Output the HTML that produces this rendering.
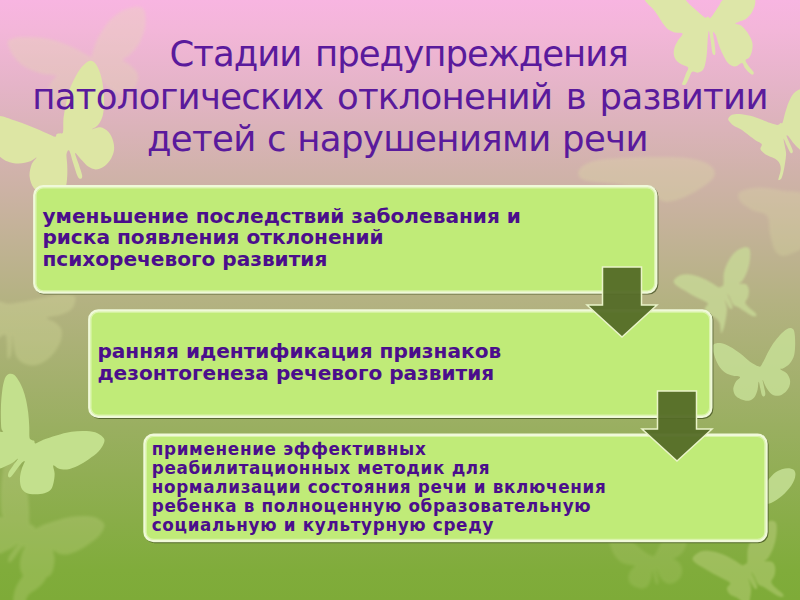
<!DOCTYPE html>
<html lang="ru">
<head>
<meta charset="utf-8">
<title>Стадии предупреждения</title>
<style>
html,body{margin:0;padding:0;}
body{width:800px;height:600px;overflow:hidden;position:relative;
  background:linear-gradient(to bottom,#f8b5e1 0%,#f3b6d9 5%,#e5b4c8 14.2%,#d0b2aa 28.7%,#b4b282 50%,#9aaf61 70.8%,#80ac3b 95%,#7eab38 100%);
  font-family:"DejaVu Sans","Liberation Sans",sans-serif;}
#bf{position:absolute;left:0;top:0;width:800px;height:600px;}
h1{position:absolute;left:0;top:33.1px;width:800px;margin:0;text-align:center;
  font-weight:normal;font-size:35.5px;line-height:42.5px;color:#5a1a9c;}
.box{position:absolute;width:624.4px;height:108.7px;}
#bx{position:absolute;left:0;top:0;width:800px;height:600px;}
.box p{position:absolute;left:9.3px;margin:0;font-weight:bold;color:#4b0e8c;white-space:nowrap;}
#b1{left:33.1px;top:185px;}
#b2{left:88.1px;top:309.3px;}
#b3{left:143.3px;top:433.6px;}
#b1 p,#b2 p{font-size:20.1px;line-height:21.5px;}
#b3 p{left:8.4px;font-size:16.8px;line-height:19.05px;letter-spacing:0.68px;}
.arr{position:absolute;width:74px;height:74px;}
</style>
</head>
<body>
<svg id="bf" viewBox="0 0 800 600"><defs><filter id="bl" x="-10%" y="-10%" width="120%" height="120%"><feGaussianBlur stdDeviation="1"/></filter><filter id="bl2" x="-10%" y="-10%" width="120%" height="120%"><feGaussianBlur stdDeviation="1.6"/></filter><clipPath id="c8"><rect x="760" y="460" width="40" height="46"/></clipPath></defs>
<path d="M90.5 56.7C89.4 56.5 89.3 56.0 85.5 54.0C81.7 52.1 74.3 47.6 67.5 45.0C60.8 42.4 52.5 39.6 45.0 38.3C37.5 36.9 27.8 37.1 22.5 37.1C17.3 37.1 15.9 37.5 13.5 38.3C11.1 39.0 8.6 40.1 7.9 41.6C7.1 43.1 8.1 44.8 9.0 47.3C9.9 49.7 11.3 53.3 13.5 56.3C15.8 59.3 19.1 62.8 22.5 65.3C25.9 67.7 30.0 69.4 33.8 70.9C37.5 72.4 41.3 73.4 45.0 74.3C48.8 75.1 55.1 74.7 56.3 75.8C57.4 77.0 53.1 78.6 51.8 81.0C50.4 83.4 48.4 87.0 48.4 90.0C48.4 93.0 49.7 96.8 51.8 99.0C53.8 101.3 57.4 103.1 60.8 103.5C64.1 103.9 68.6 103.1 72.0 101.3C75.4 99.4 78.4 96.0 81.0 92.3C83.6 88.5 86.2 82.1 87.8 78.8C89.3 75.4 89.6 73.9 90.5 72.0C91.3 70.1 91.7 67.1 92.7 67.5C93.8 67.9 94.6 71.3 96.8 74.3C98.9 77.3 102.4 82.5 105.8 85.5C109.1 88.5 113.3 91.1 117.0 92.3C120.8 93.4 125.1 93.4 128.3 92.3C131.5 91.1 134.6 88.5 136.1 85.5C137.7 82.5 138.7 77.6 137.7 74.3C136.8 70.9 133.0 67.7 130.5 65.3C128.1 62.9 123.1 61.7 123.1 59.9C123.1 58.0 127.8 56.9 130.5 54.0C133.3 51.2 137.1 47.3 139.5 42.8C142.0 38.3 144.3 32.3 145.1 27.0C146.0 21.8 145.8 14.6 144.5 11.3C143.2 7.9 141.1 6.8 137.3 6.8C133.4 6.8 126.4 8.6 121.5 11.3C116.6 13.9 112.1 17.6 108.0 22.5C103.9 27.4 99.5 35.0 96.8 40.5C94.1 46.0 92.9 52.7 91.8 55.4C90.8 58.1 91.5 56.9 90.5 56.7Z" fill="#e2e8a6" opacity="0.24" filter="url(#bl2)"/>
<path d="M579.5 169.5C581.5 166.3 586.8 162.5 596.0 160.5C605.3 158.5 621.0 158.0 635.0 157.5C649.0 157.0 668.5 156.8 680.0 157.5C691.5 158.3 698.3 159.8 704.0 162.0C709.8 164.3 713.5 167.8 714.5 171.0C715.5 174.3 714.8 177.3 710.0 181.5C705.3 185.8 693.5 193.2 686.0 196.5C678.5 199.9 671.0 202.1 665.0 201.6C659.0 201.1 657.5 196.4 650.0 193.5C642.5 190.7 631.0 186.8 620.0 184.5C609.0 182.3 590.8 182.5 584.0 180.0C577.3 177.5 577.5 172.8 579.5 169.5Z" fill="#e2e8a6" opacity="0.26" filter="url(#bl2)"/>
<path d="M740.0 192.0C743.0 189.8 751.0 187.8 758.0 187.5C765.0 187.3 773.5 188.8 782.0 190.5C790.5 192.3 804.5 189.8 809.0 198.0C813.5 206.3 812.5 230.5 809.0 240.0C805.5 249.5 793.5 253.0 788.0 255.0C782.5 257.0 779.0 255.5 776.0 252.0C773.0 248.5 771.5 240.0 770.0 234.0C768.5 228.0 770.0 220.0 767.0 216.0C764.0 212.0 756.5 212.5 752.0 210.0C747.5 207.5 742.0 204.0 740.0 201.0C738.0 198.0 737.0 194.3 740.0 192.0Z" fill="#e2e8a6" opacity="0.22" filter="url(#bl2)"/>
<path d="M9.2 303.8C13.8 303.5 16.8 302.9 22.0 302.0C27.2 301.1 34.2 299.6 40.3 298.3C46.4 297.1 53.2 295.1 58.7 294.7C64.2 294.2 70.5 294.7 73.3 295.6C76.1 296.5 75.8 297.9 75.5 300.2C75.2 302.5 74.0 306.9 71.5 309.3C69.0 311.8 64.6 313.4 60.5 314.8C56.4 316.3 47.7 316.7 46.8 318.0C45.8 319.2 52.6 320.2 55.0 322.2C57.4 324.1 60.4 326.4 61.4 329.5C62.4 332.6 61.9 336.8 60.9 340.5C59.8 344.2 57.5 348.1 55.0 351.5C52.5 354.9 49.2 358.4 45.8 360.7C42.5 363.0 38.5 364.8 34.8 365.3C31.2 365.7 26.9 364.8 23.8 363.4C20.8 362.0 18.2 359.9 16.5 357.0C14.8 354.1 14.4 349.7 13.8 346.0C13.1 342.3 12.9 333.8 12.5 335.0C12.1 336.2 12.2 349.5 11.4 353.3C10.6 357.2 8.7 361.0 7.7 357.9C6.7 354.9 7.7 338.2 5.5 335.0C3.3 331.8 -3.7 343.9 -5.5 338.7C-7.3 333.5 -7.9 309.6 -5.5 303.8C-3.1 298.0 4.6 304.1 9.2 303.8Z" fill="#e2e8a6" opacity="0.26" filter="url(#bl2)"/>
<g opacity="0.2" filter="url(#bl2)"><path d="M6.5 375.8C7.4 374.7 8.5 373.8 9.7 373.7C11.0 373.5 12.6 373.7 14.1 374.7C15.5 375.8 17.0 377.8 18.4 380.2C19.9 382.5 21.5 385.6 22.7 388.8C24.0 392.1 25.1 395.7 26.0 399.7C26.9 403.6 27.6 408.3 28.2 412.6C28.7 417.0 29.0 421.5 29.2 425.6C29.5 429.8 29.1 435.2 29.5 437.6C29.9 439.9 30.8 439.4 31.6 439.9C32.4 440.5 33.6 440.2 34.2 440.8C34.9 441.4 34.0 443.6 35.5 443.4C37.0 443.2 39.9 441.1 43.3 439.7C46.8 438.4 51.6 436.7 56.3 435.4C61.0 434.1 66.4 432.4 71.5 431.7C76.5 431.0 82.3 430.8 86.6 431.1C91.0 431.3 94.6 432.0 97.5 433.2C100.4 434.5 103.0 436.8 104.0 438.6C105.0 440.4 104.4 441.9 103.5 444.1C102.6 446.2 101.0 449.1 98.5 451.6C96.1 454.2 92.2 456.9 88.8 459.2C85.4 461.6 81.6 464.0 78.0 465.7C74.4 467.4 70.4 468.9 67.1 469.4C63.9 469.9 60.8 469.2 58.5 468.5C56.2 467.9 53.9 464.7 53.3 465.5C52.6 466.3 54.5 470.6 54.6 473.3C54.7 476.0 54.3 479.3 53.7 482.0C53.1 484.7 52.5 487.7 50.9 489.5C49.3 491.4 47.1 492.4 44.4 493.2C41.7 494.0 37.7 494.4 34.7 494.3C31.6 494.2 28.2 493.9 26.0 492.8C23.8 491.6 22.2 489.7 21.2 487.4C20.2 485.0 19.9 481.8 19.9 478.7C20.0 475.6 20.9 471.9 21.7 469.0C22.5 466.1 24.8 462.3 24.7 461.4C24.6 460.5 22.8 461.9 21.2 463.5C19.6 465.2 16.9 469.3 15.2 471.6C13.4 473.8 12.0 476.1 10.8 477.0C9.7 477.8 8.6 477.3 8.2 476.5C7.9 475.8 7.9 474.0 8.7 472.2C9.5 470.4 11.4 468.0 13.0 465.7C14.6 463.4 18.2 459.1 18.2 458.6C18.2 458.0 14.9 461.3 13.0 462.5C11.0 463.7 9.0 464.7 6.5 465.7C4.0 466.7 0.4 469.4 -2.2 468.5C-4.7 467.6 -7.6 466.0 -8.7 460.3C-9.7 454.6 -10.5 439.1 -8.7 434.3C-6.8 429.5 0.9 432.8 2.6 431.7C4.3 430.6 1.6 431.7 1.3 427.8C1.0 423.9 0.7 414.5 0.9 408.3C1.0 402.2 1.6 395.7 2.2 391.0C2.7 386.3 3.6 382.7 4.3 380.2C5.1 377.6 5.6 376.9 6.5 375.8Z" fill="#e2e8a6" transform="translate(0 85)"/><path d="M44 560C52 572 46 584 32 592C24 597 25 606 27 614L14 614C12 600 13 590 20 580C26 572 28 566 28 560Z" fill="#e2e8a6"/></g>
<path d="M758.3 366.3C756.5 365.7 753.1 363.8 750.0 361.7C746.9 359.5 743.3 355.8 740.0 353.3C736.7 350.8 733.1 348.3 730.0 346.7C726.9 345.0 724.2 343.8 721.7 343.3C719.1 342.8 716.2 343.0 714.7 343.7C713.1 344.4 712.6 345.6 712.5 347.5C712.4 349.4 713.2 352.1 714.2 355.0C715.1 357.9 716.5 362.1 718.3 365.0C720.1 367.9 722.5 370.7 725.0 372.5C727.5 374.3 730.8 375.1 733.3 375.8C735.8 376.6 739.6 376.0 740.0 377.0C740.4 378.0 736.9 379.8 735.8 381.7C734.7 383.6 733.5 386.1 733.3 388.3C733.2 390.6 733.8 393.2 735.0 395.0C736.2 396.8 738.6 398.2 740.8 399.2C743.1 400.1 746.1 401.1 748.3 400.8C750.6 400.6 752.6 399.3 754.2 397.5C755.7 395.7 756.8 392.6 757.5 390.0C758.2 387.4 758.2 381.9 758.7 381.7C759.1 381.4 759.8 386.1 760.3 388.3C760.9 390.6 761.3 394.0 762.0 395.3C762.7 396.7 763.8 396.7 764.3 396.3C764.9 396.0 765.4 394.9 765.3 393.3C765.3 391.7 764.4 388.9 764.0 386.7C763.6 384.4 762.2 379.7 762.7 380.0C763.1 380.3 765.2 386.0 766.7 388.3C768.2 390.7 769.7 392.9 771.7 394.2C773.6 395.4 776.1 396.1 778.3 395.8C780.6 395.6 783.2 394.0 785.0 392.5C786.8 391.0 788.3 388.8 789.2 386.7C790.0 384.6 790.4 382.2 790.0 380.0C789.6 377.8 788.3 375.1 786.7 373.3C785.1 371.5 780.9 370.0 780.3 369.2C779.8 368.3 781.7 369.3 783.3 368.3C784.9 367.4 788.2 365.6 790.0 363.3C791.8 361.1 793.3 358.3 794.2 355.0C795.0 351.7 795.1 347.2 795.2 343.3C795.2 339.4 794.9 334.2 794.3 331.7C793.8 329.2 792.9 328.8 791.7 328.3C790.4 327.9 788.6 328.1 786.7 329.2C784.7 330.3 782.2 332.6 780.0 335.0C777.8 337.4 775.3 340.6 773.3 343.3C771.4 346.1 769.9 348.9 768.3 351.7C766.8 354.4 765.4 357.7 764.2 360.0C762.9 362.3 762.0 364.6 761.0 365.7C760.0 366.7 760.2 367.0 758.3 366.3Z" fill="#e2e8a6" opacity="0.14" transform="translate(652.0 556.0) rotate(0.0) scale(0.950) translate(-758.3 -366.5)" filter="url(#bl2)"/>
<path d="M721.4 286.3C720.6 286.8 720.3 287.9 718.7 287.3C717.0 286.6 714.4 284.3 711.3 282.7C708.3 281.0 704.0 278.5 700.3 277.2C696.7 275.8 692.7 274.7 689.3 274.4C686.0 274.1 682.8 274.3 680.2 275.3C677.6 276.4 674.4 279.2 673.8 280.8C673.1 282.5 674.8 283.9 676.5 285.4C678.2 286.9 681.1 288.3 683.8 290.0C686.6 291.7 689.9 293.8 693.0 295.5C696.1 297.2 699.7 298.7 702.2 300.1C704.7 301.5 707.6 302.4 708.0 303.8C708.5 305.1 705.0 306.7 704.9 308.3C704.9 310.0 706.0 312.3 707.7 313.8C709.3 315.4 713.0 316.0 715.0 317.5C717.0 319.0 718.6 320.9 719.6 323.0C720.5 325.1 720.4 328.6 720.7 330.3C721.0 332.0 720.8 333.9 721.4 333.3C722.0 332.7 723.4 329.3 724.2 326.7C724.9 324.0 725.5 320.6 726.0 317.5C726.5 314.4 727.2 311.3 726.9 308.3C726.7 305.3 724.4 300.1 724.5 299.5C724.6 298.9 726.5 303.1 727.5 304.7C728.4 306.2 729.5 308.2 730.4 308.7C731.3 309.2 732.6 308.9 732.6 307.6C732.6 306.3 731.3 303.3 730.4 301.0C729.5 298.7 727.2 294.3 727.1 293.7C727.0 293.1 728.6 295.5 729.7 297.3C730.7 299.2 731.8 303.0 733.3 304.7C734.9 306.3 737.0 306.3 738.8 307.4C740.7 308.5 742.2 309.7 744.3 311.1C746.5 312.5 749.7 314.9 751.7 315.7C753.7 316.5 755.6 316.3 756.3 315.9C756.9 315.4 756.4 314.2 755.3 312.9C754.3 311.7 751.5 310.0 749.8 308.3C748.2 306.7 745.6 304.7 745.3 302.8C744.9 301.0 747.4 299.5 748.0 297.3C748.6 295.2 749.2 292.1 748.9 290.0C748.6 287.9 747.8 285.6 746.2 284.5C744.5 283.4 739.8 284.2 739.2 283.6C738.6 283.0 741.2 282.8 742.5 280.8C743.8 278.8 745.9 275.0 747.1 271.7C748.3 268.3 749.4 264.3 749.8 260.7C750.3 257.0 750.6 252.0 749.8 249.7C749.1 247.4 747.4 246.8 745.3 246.9C743.1 247.1 739.6 248.6 737.0 250.6C734.4 252.6 731.8 255.3 729.7 258.8C727.5 262.3 725.2 267.4 724.2 271.7C723.1 275.9 723.9 282.1 723.4 284.5C723.0 286.9 722.2 285.9 721.4 286.3Z" fill="#e2e8a6" opacity="0.3" transform="translate(745.0 564.0) rotate(0.0) scale(1.100) translate(-721.4 -286.3)" filter="url(#bl)"/>
<path d="M760 500C762 488 768 478 776 472C782 468 790 467 794 470C797 474 795 480 791 486C786 493 779 499 771 503C766 505 762 504 760 500Z" fill="#c9e39a" opacity="0.8"/>
<path d="M721.4 286.3C720.6 286.8 720.3 287.9 718.7 287.3C717.0 286.6 714.4 284.3 711.3 282.7C708.3 281.0 704.0 278.5 700.3 277.2C696.7 275.8 692.7 274.7 689.3 274.4C686.0 274.1 682.8 274.3 680.2 275.3C677.6 276.4 674.4 279.2 673.8 280.8C673.1 282.5 674.8 283.9 676.5 285.4C678.2 286.9 681.1 288.3 683.8 290.0C686.6 291.7 689.9 293.8 693.0 295.5C696.1 297.2 699.7 298.7 702.2 300.1C704.7 301.5 707.6 302.4 708.0 303.8C708.5 305.1 705.0 306.7 704.9 308.3C704.9 310.0 706.0 312.3 707.7 313.8C709.3 315.4 713.0 316.0 715.0 317.5C717.0 319.0 718.6 320.9 719.6 323.0C720.5 325.1 720.4 328.6 720.7 330.3C721.0 332.0 720.8 333.9 721.4 333.3C722.0 332.7 723.4 329.3 724.2 326.7C724.9 324.0 725.5 320.6 726.0 317.5C726.5 314.4 727.2 311.3 726.9 308.3C726.7 305.3 724.4 300.1 724.5 299.5C724.6 298.9 726.5 303.1 727.5 304.7C728.4 306.2 729.5 308.2 730.4 308.7C731.3 309.2 732.6 308.9 732.6 307.6C732.6 306.3 731.3 303.3 730.4 301.0C729.5 298.7 727.2 294.3 727.1 293.7C727.0 293.1 728.6 295.5 729.7 297.3C730.7 299.2 731.8 303.0 733.3 304.7C734.9 306.3 737.0 306.3 738.8 307.4C740.7 308.5 742.2 309.7 744.3 311.1C746.5 312.5 749.7 314.9 751.7 315.7C753.7 316.5 755.6 316.3 756.3 315.9C756.9 315.4 756.4 314.2 755.3 312.9C754.3 311.7 751.5 310.0 749.8 308.3C748.2 306.7 745.6 304.7 745.3 302.8C744.9 301.0 747.4 299.5 748.0 297.3C748.6 295.2 749.2 292.1 748.9 290.0C748.6 287.9 747.8 285.6 746.2 284.5C744.5 283.4 739.8 284.2 739.2 283.6C738.6 283.0 741.2 282.8 742.5 280.8C743.8 278.8 745.9 275.0 747.1 271.7C748.3 268.3 749.4 264.3 749.8 260.7C750.3 257.0 750.6 252.0 749.8 249.7C749.1 247.4 747.4 246.8 745.3 246.9C743.1 247.1 739.6 248.6 737.0 250.6C734.4 252.6 731.8 255.3 729.7 258.8C727.5 262.3 725.2 267.4 724.2 271.7C723.1 275.9 723.9 282.1 723.4 284.5C723.0 286.9 722.2 285.9 721.4 286.3Z" fill="#c9dc98" opacity="0.75" filter="url(#bl)"/>
<path d="M758.3 366.3C756.5 365.7 753.1 363.8 750.0 361.7C746.9 359.5 743.3 355.8 740.0 353.3C736.7 350.8 733.1 348.3 730.0 346.7C726.9 345.0 724.2 343.8 721.7 343.3C719.1 342.8 716.2 343.0 714.7 343.7C713.1 344.4 712.6 345.6 712.5 347.5C712.4 349.4 713.2 352.1 714.2 355.0C715.1 357.9 716.5 362.1 718.3 365.0C720.1 367.9 722.5 370.7 725.0 372.5C727.5 374.3 730.8 375.1 733.3 375.8C735.8 376.6 739.6 376.0 740.0 377.0C740.4 378.0 736.9 379.8 735.8 381.7C734.7 383.6 733.5 386.1 733.3 388.3C733.2 390.6 733.8 393.2 735.0 395.0C736.2 396.8 738.6 398.2 740.8 399.2C743.1 400.1 746.1 401.1 748.3 400.8C750.6 400.6 752.6 399.3 754.2 397.5C755.7 395.7 756.8 392.6 757.5 390.0C758.2 387.4 758.2 381.9 758.7 381.7C759.1 381.4 759.8 386.1 760.3 388.3C760.9 390.6 761.3 394.0 762.0 395.3C762.7 396.7 763.8 396.7 764.3 396.3C764.9 396.0 765.4 394.9 765.3 393.3C765.3 391.7 764.4 388.9 764.0 386.7C763.6 384.4 762.2 379.7 762.7 380.0C763.1 380.3 765.2 386.0 766.7 388.3C768.2 390.7 769.7 392.9 771.7 394.2C773.6 395.4 776.1 396.1 778.3 395.8C780.6 395.6 783.2 394.0 785.0 392.5C786.8 391.0 788.3 388.8 789.2 386.7C790.0 384.6 790.4 382.2 790.0 380.0C789.6 377.8 788.3 375.1 786.7 373.3C785.1 371.5 780.9 370.0 780.3 369.2C779.8 368.3 781.7 369.3 783.3 368.3C784.9 367.4 788.2 365.6 790.0 363.3C791.8 361.1 793.3 358.3 794.2 355.0C795.0 351.7 795.1 347.2 795.2 343.3C795.2 339.4 794.9 334.2 794.3 331.7C793.8 329.2 792.9 328.8 791.7 328.3C790.4 327.9 788.6 328.1 786.7 329.2C784.7 330.3 782.2 332.6 780.0 335.0C777.8 337.4 775.3 340.6 773.3 343.3C771.4 346.1 769.9 348.9 768.3 351.7C766.8 354.4 765.4 357.7 764.2 360.0C762.9 362.3 762.0 364.6 761.0 365.7C760.0 366.7 760.2 367.0 758.3 366.3Z" fill="#c9e39a" opacity="0.78"/>
<path d="M63.0 132.0C63.6 129.5 63.0 122.7 63.5 118.0C64.0 113.3 65.0 108.7 66.0 104.0C67.1 99.3 68.1 94.3 69.5 90.0C71.0 85.7 72.7 82.1 74.7 78.3C76.7 74.5 79.2 70.1 81.7 67.1C84.2 64.2 87.6 61.5 89.8 60.8C92.1 60.2 93.5 61.2 95.2 63.2C96.9 65.1 98.6 68.8 99.9 72.5C101.2 76.2 102.2 80.5 102.9 85.3C103.6 90.2 104.1 96.6 104.1 101.7C104.0 106.7 103.7 111.8 102.7 115.7C101.7 119.6 99.8 122.8 98.0 125.0C96.3 127.3 91.8 128.8 92.2 129.2C92.6 129.6 97.6 126.9 100.4 127.3C103.1 127.8 106.4 129.7 108.5 132.0C110.7 134.3 112.3 138.2 113.2 141.3C114.1 144.5 114.4 147.6 113.9 150.7C113.4 153.8 111.9 157.3 110.2 160.0C108.4 162.7 105.6 165.5 103.2 167.0C100.7 168.6 98.2 169.4 95.7 169.4C93.2 169.3 90.5 168.1 88.2 166.6C85.9 165.0 83.9 162.3 81.7 160.0C79.5 157.8 75.6 152.2 75.1 153.0C74.7 153.8 77.7 161.0 78.9 164.7C80.0 168.4 81.8 172.9 82.1 175.2C82.5 177.5 81.7 178.5 81.0 178.7C80.2 178.9 79.0 178.9 77.7 176.4C76.4 173.8 74.7 167.8 73.3 163.5C71.9 159.2 70.4 152.2 69.3 150.7C68.2 149.1 66.9 151.8 66.5 154.2C66.2 156.5 67.1 161.0 67.2 164.7C67.3 168.4 67.5 172.5 67.2 176.4C66.9 180.2 66.8 184.9 65.3 188.0C63.9 191.1 61.8 193.9 58.3 195.0C54.8 196.2 48.4 196.2 44.3 195.0C40.3 193.9 36.3 191.1 33.8 188.0C31.4 184.9 30.0 180.2 29.6 176.4C29.2 172.5 30.4 167.8 31.5 164.7C32.6 161.6 36.6 158.3 36.4 157.7C36.2 157.1 33.3 160.2 30.3 161.2C27.4 162.2 22.6 163.5 18.7 163.5C14.8 163.5 10.5 162.7 7.0 161.2C3.5 159.6 0.0 157.1 -2.3 154.2C-4.7 151.3 -6.2 148.5 -7.0 143.7C-7.8 138.8 -8.0 129.6 -7.0 125.0C-6.0 120.4 -4.7 116.9 -1.2 116.1C2.3 115.4 8.8 118.7 14.0 120.3C19.3 122.0 24.9 124.0 30.3 126.2C35.8 128.3 42.6 131.4 46.7 133.2C50.8 134.9 53.4 136.6 55.1 136.7C56.7 136.8 55.9 134.5 56.7 133.9C57.6 133.3 59.2 133.5 60.2 133.2C61.3 132.9 62.5 134.5 63.0 132.0Z" fill="#dde6a4"/>
<path d="M6.5 375.8C7.4 374.7 8.5 373.8 9.7 373.7C11.0 373.5 12.6 373.7 14.1 374.7C15.5 375.8 17.0 377.8 18.4 380.2C19.9 382.5 21.5 385.6 22.7 388.8C24.0 392.1 25.1 395.7 26.0 399.7C26.9 403.6 27.6 408.3 28.2 412.6C28.7 417.0 29.0 421.5 29.2 425.6C29.5 429.8 29.1 435.2 29.5 437.6C29.9 439.9 30.8 439.4 31.6 439.9C32.4 440.5 33.6 440.2 34.2 440.8C34.9 441.4 34.0 443.6 35.5 443.4C37.0 443.2 39.9 441.1 43.3 439.7C46.8 438.4 51.6 436.7 56.3 435.4C61.0 434.1 66.4 432.4 71.5 431.7C76.5 431.0 82.3 430.8 86.6 431.1C91.0 431.3 94.6 432.0 97.5 433.2C100.4 434.5 103.0 436.8 104.0 438.6C105.0 440.4 104.4 441.9 103.5 444.1C102.6 446.2 101.0 449.1 98.5 451.6C96.1 454.2 92.2 456.9 88.8 459.2C85.4 461.6 81.6 464.0 78.0 465.7C74.4 467.4 70.4 468.9 67.1 469.4C63.9 469.9 60.8 469.2 58.5 468.5C56.2 467.9 53.9 464.7 53.3 465.5C52.6 466.3 54.5 470.6 54.6 473.3C54.7 476.0 54.3 479.3 53.7 482.0C53.1 484.7 52.5 487.7 50.9 489.5C49.3 491.4 47.1 492.4 44.4 493.2C41.7 494.0 37.7 494.4 34.7 494.3C31.6 494.2 28.2 493.9 26.0 492.8C23.8 491.6 22.2 489.7 21.2 487.4C20.2 485.0 19.9 481.8 19.9 478.7C20.0 475.6 20.9 471.9 21.7 469.0C22.5 466.1 24.8 462.3 24.7 461.4C24.6 460.5 22.8 461.9 21.2 463.5C19.6 465.2 16.9 469.3 15.2 471.6C13.4 473.8 12.0 476.1 10.8 477.0C9.7 477.8 8.6 477.3 8.2 476.5C7.9 475.8 7.9 474.0 8.7 472.2C9.5 470.4 11.4 468.0 13.0 465.7C14.6 463.4 18.2 459.1 18.2 458.6C18.2 458.0 14.9 461.3 13.0 462.5C11.0 463.7 9.0 464.7 6.5 465.7C4.0 466.7 0.4 469.4 -2.2 468.5C-4.7 467.6 -7.6 466.0 -8.7 460.3C-9.7 454.6 -10.5 439.1 -8.7 434.3C-6.8 429.5 0.9 432.8 2.6 431.7C4.3 430.6 1.6 431.7 1.3 427.8C1.0 423.9 0.7 414.5 0.9 408.3C1.0 402.2 1.6 395.7 2.2 391.0C2.7 386.3 3.6 382.7 4.3 380.2C5.1 377.6 5.6 376.9 6.5 375.8Z" fill="#c3e08d"/>
<path d="M707.9 16.6C706.9 16.6 706.8 18.5 704.9 17.5C703.0 16.5 699.4 13.0 696.5 10.5C693.6 8.0 690.1 5.0 687.8 2.6C685.4 0.3 686.3 -1.3 682.5 -3.5C678.7 -5.7 671.3 -10.2 665.0 -10.5C658.7 -10.8 648.2 -7.0 644.9 -5.3C641.5 -3.5 644.4 -1.5 644.9 0.0C645.3 1.5 646.2 2.0 647.5 3.5C648.8 5.0 651.0 6.7 652.8 8.8C654.5 10.8 656.4 13.4 658.0 15.8C659.6 18.1 660.8 20.6 662.4 22.8C664.0 24.9 665.6 27.3 667.6 28.9C669.7 30.5 672.1 31.6 674.6 32.4C677.1 33.2 681.9 32.3 682.5 33.6C683.1 34.9 679.4 38.0 678.1 40.3C676.8 42.5 675.4 44.9 674.6 47.3C673.9 49.6 673.5 52.1 673.8 54.3C674.0 56.4 674.9 58.6 676.4 60.4C677.8 62.1 680.5 63.6 682.5 64.8C684.5 65.9 687.5 66.1 688.1 67.6C688.7 69.0 686.8 71.3 686.0 73.5C685.2 75.7 684.0 78.7 683.4 80.5C682.7 82.3 681.8 83.7 682.2 84.4C682.5 85.0 684.4 85.6 685.7 84.4C686.9 83.1 688.4 79.1 689.5 77.0C690.6 74.9 690.8 72.5 692.3 71.8C693.8 71.0 696.4 73.1 698.3 72.6C700.1 72.2 702.2 71.3 703.5 69.1C704.8 66.9 705.5 62.9 706.1 59.5C706.7 56.1 706.9 53.1 707.2 49.0C707.5 44.9 707.7 37.9 708.1 35.0C708.4 32.1 708.6 30.3 709.1 31.5C709.6 32.7 710.3 38.5 710.9 42.0C711.4 45.5 711.7 50.3 712.3 52.5C712.8 54.7 713.8 55.1 714.4 55.1C714.9 55.1 715.4 54.7 715.4 52.5C715.4 50.3 714.8 45.4 714.4 42.0C713.9 38.6 712.7 33.5 713.0 32.4C713.2 31.2 714.9 33.1 715.8 35.0C716.7 36.9 717.2 40.5 718.4 43.8C719.5 47.0 721.2 51.0 722.8 54.3C724.4 57.5 726.0 61.0 728.0 63.0C730.0 65.0 732.7 66.5 735.0 66.5C737.3 66.5 740.4 62.9 742.0 63.0C743.6 63.1 743.5 65.8 744.6 67.4C745.8 69.0 747.7 71.4 749.0 72.6C750.3 73.9 751.7 74.8 752.5 74.7C753.3 74.6 754.1 73.5 753.6 72.1C753.0 70.7 750.3 68.5 749.0 66.5C747.7 64.5 745.5 61.8 745.5 60.4C745.5 58.9 748.0 59.1 749.0 57.8C750.0 56.4 751.0 54.8 751.6 52.5C752.2 50.2 752.9 46.7 752.5 43.8C752.1 40.8 750.8 37.9 749.0 35.0C747.3 32.1 744.3 28.1 742.0 26.3C739.7 24.4 735.9 24.4 735.4 23.6C734.8 22.9 736.8 22.6 738.5 21.9C740.2 21.1 743.5 20.6 745.5 19.3C747.5 17.9 749.3 16.0 750.8 14.0C752.2 12.0 753.5 9.3 754.3 7.0C755.0 4.7 755.6 2.3 755.3 0.0C755.0 -2.3 755.9 -5.3 752.5 -7.0C749.1 -8.8 740.0 -11.7 735.0 -10.5C730.0 -9.3 725.4 -2.6 722.8 0.0C720.1 2.6 721.2 2.3 719.3 5.3C717.3 8.2 712.7 15.6 710.9 17.5C709.0 19.4 708.9 16.6 707.9 16.6Z" fill="#dde6a8"/>
<path d="M780.6 123.1C779.8 123.5 779.5 124.9 777.8 124.9C776.1 124.9 773.2 124.0 770.5 123.1C767.7 122.2 764.7 120.6 761.3 119.4C758.0 118.2 754.0 116.7 750.3 115.7C746.7 114.8 742.4 114.1 739.3 113.9C736.3 113.8 733.8 114.1 732.0 114.8C730.2 115.6 728.8 117.4 728.3 118.5C727.9 119.6 728.3 120.0 729.2 121.2C730.2 122.5 731.8 124.4 733.8 125.8C735.8 127.2 738.7 128.0 741.2 129.5C743.6 131.0 746.0 133.2 748.5 135.0C750.9 136.8 753.6 139.0 755.8 140.5C758.0 142.0 760.9 142.8 761.7 144.1C762.4 145.5 760.2 147.4 760.4 148.7C760.6 150.1 761.8 151.2 763.2 152.4C764.5 153.6 766.7 155.0 768.7 156.1C770.6 157.1 773.2 157.6 775.1 158.8C776.9 160.0 778.7 161.6 779.6 163.4C780.6 165.2 780.9 167.5 780.7 169.8C780.6 172.1 779.3 175.4 778.9 177.1C778.5 178.9 778.1 179.9 778.5 180.1C779.0 180.3 780.7 179.6 781.5 178.2C782.3 176.8 782.9 174.3 783.5 171.6C784.1 169.0 784.7 165.5 785.1 162.5C785.6 159.4 786.2 156.4 786.1 153.3C785.9 150.3 784.8 146.6 784.4 144.1C784.0 141.7 783.3 138.3 783.7 138.7C784.1 139.0 785.8 143.6 787.0 146.0C788.1 148.4 789.7 152.1 790.6 152.9C791.6 153.8 793.0 152.7 792.8 151.1C792.7 149.5 790.8 145.8 789.7 143.2C788.7 140.7 786.8 137.0 786.6 135.9C786.5 134.8 787.5 135.4 788.8 136.8C790.1 138.2 792.2 141.9 794.3 144.1C796.4 146.4 799.2 149.6 801.6 150.6C804.1 151.5 807.1 152.2 809.0 149.6C810.8 147.1 812.0 142.0 812.6 135.0C813.3 128.0 813.6 115.4 812.6 107.5C811.7 99.6 809.2 90.4 807.1 87.3C805.0 84.3 802.3 88.1 800.0 89.2C797.7 90.2 795.3 91.6 793.4 93.7C791.5 95.9 790.2 98.8 788.8 102.0C787.4 105.2 786.2 109.6 785.1 113.0C784.1 116.4 783.3 120.8 782.6 122.5C781.8 124.2 781.4 122.7 780.6 123.1Z" fill="#dbe5a6"/></svg>
<h1><span style="position:relative;left:-1.4px;letter-spacing:-1px;word-spacing:3.4px">Стадии предупреждения</span><br><span style="letter-spacing:-0.73px;word-spacing:3px">патологических отклонений в развитии</span><br><span style="position:relative;left:-2.6px;letter-spacing:-0.62px;word-spacing:0.6px">детей с нарушениями речи</span></h1>
<svg id="bx" viewBox="0 0 800 600"><defs><g id="bxg"><rect x="2.2" y="2.2" width="622" height="106.3" rx="9" fill="none" stroke="#3c4a1c" stroke-opacity=".7" stroke-width="2.2"/><rect x="1.2" y="1.2" width="622" height="106.3" rx="9" fill="#c0eb78" stroke="#f0f9d9" stroke-width="2.4"/><rect x="2.9" y="2.9" width="618.6" height="102.9" rx="7.4" fill="none" stroke="#e4f7bd" stroke-opacity=".75" stroke-width="1.2"/></g></defs><use href="#bxg" x="33.1" y="185"/><use href="#bxg" x="88.1" y="309.3"/><use href="#bxg" x="143.3" y="433.6"/></svg>
<div class="box" id="b1"><p style="top:20.5px">уменьшение последствий заболевания и<br>риска появления отклонений<br>психоречевого развития</p></div>
<div class="box" id="b2"><p style="top:31.8px">ранняя идентификация признаков<br>дезонтогенеза речевого развития</p></div>
<div class="box" id="b3"><p style="top:6.2px">применение эффективных<br>реабилитационных методик для<br>нормализации состояния речи и включения<br>ребенка в полноценную образовательную<br>социальную и культурную среду</p></div>
<svg class="arr" style="left:585px;top:265px" viewBox="-2 -2 74 74"><path d="M15.5 0H54.5V38H70L35 70L0 38H15.5Z" fill="#546c27" fill-opacity=".95" stroke="#e9f3c8" stroke-width="1.5"/></svg>
<svg class="arr" style="left:640px;top:389px" viewBox="-2 -2 74 74"><path d="M15.5 0H54.5V38H70L35 70L0 38H15.5Z" fill="#546c27" fill-opacity=".95" stroke="#e9f3c8" stroke-width="1.5"/></svg>
</body>
</html>
